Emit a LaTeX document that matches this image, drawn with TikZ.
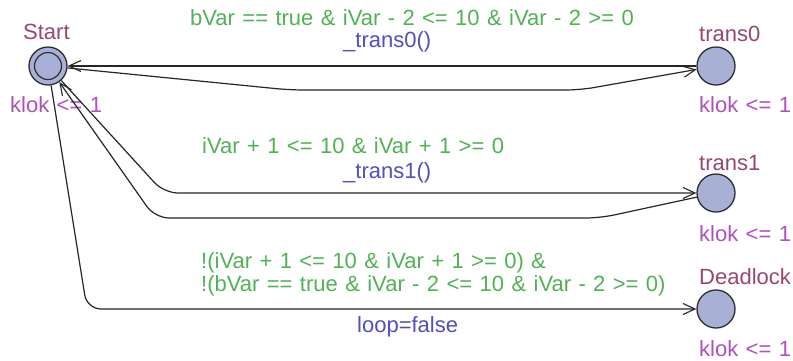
\documentclass[tikz,border=0pt]{standalone}
\usepackage{fontspec}
\setmainfont{Liberation Sans}
\usetikzlibrary{arrows.meta}
\definecolor{locfill}{RGB}{168,176,214}
\definecolor{locline}{RGB}{45,45,50}
\definecolor{namecol}{RGB}{150,70,115}
\definecolor{invcol}{RGB}{175,80,190}
\definecolor{guardcol}{RGB}{80,178,85}
\definecolor{updcol}{RGB}{80,80,190}
% label font with slightly wider word spacing
\newcommand\lblfont{\fontsize{22}{24}\selectfont\spaceskip 7.4pt plus 0pt minus 0pt\relax}
\begin{document}
\begin{tikzpicture}[x=1pt,y=-1pt,
  every node/.style={inner sep=0pt},
  loc/.style={circle, draw=locline, line width=1.3pt, fill=locfill, minimum size=38pt},
  lbl/.style={font=\lblfont, anchor=base west},
  lname/.style={lbl, text=namecol},
  linv/.style={lbl, text=invcol},
  guard/.style={lbl, text=guardcol},
  upd/.style={lbl, text=updcol},
  edge/.style={draw=black!85, line width=1.2pt, rounded corners=14pt,
    -{Straight Barb[length=12pt,width=11pt,line width=1.1pt]}}
]
\useasboundingbox (0,0) rectangle (793,360);

% locations
\node[loc] (start) at (48,66) {};
\node[circle, draw=locline, line width=1.2pt, minimum size=27pt] (startin) at (48,66) {};
\node[loc] (t0) at (716,66) {};
\node[loc] (t1) at (716,193) {};
\node[loc] (dl) at (716,309) {};

% location names and invariants
\node[lname] (nstart) at (23,39) {Start};
\node[linv] (istart) at (10,112) {klok <= 1};
\node[lname] (nt0) at (699,41) {trans0};
\node[linv] (it0) at (699,112) {klok <= 1};
\node[lname] (nt1) at (699,170) {trans1};
\node[linv] (it1) at (699,241) {klok <= 1};
\node[lname] (ndl) at (699,284) {Deadlock};
\node[linv] (idl) at (699,356) {klok <= 1};

% bend points
\coordinate (a1) at (290,90);
\coordinate (a2) at (580,90);
\coordinate (b1) at (164,193);
\coordinate (c1) at (600,218);
\coordinate (c2) at (155,218);
\coordinate (d1) at (87,309);

% transitions
\draw[edge] (t0.west) -- (start);
\draw[edge] (start) -- (a1) -- (a2) -- (t0);
\draw[edge] (start) -- (b1) -- (t1.west);
\draw[edge] (t1) -- (c1) -- (c2) -- (start);
\draw[edge] (start) -- (d1) -- (dl.west);

% guards, updates
\node[guard] (g0) at (190,25) {bVar == true \& iVar - 2 <= 10 \& iVar - 2 >= 0};
\node[upd] (u0) at (343,47) {\_trans0()};
\node[guard] (g1) at (202,153) {iVar + 1 <= 10 \& iVar + 1 >= 0};
\node[upd] (u1) at (343,178) {\_trans1()};
\node[guard] (g2a) at (201,268) {!(iVar + 1 <= 10 \& iVar + 1 >= 0) \&};
\node[guard] (g2b) at (201,291) {!(bVar == true \& iVar - 2 <= 10 \& iVar - 2 >= 0)};
\node[upd] (u2) at (357,332) {loop=false};
\end{tikzpicture}
\end{document}
